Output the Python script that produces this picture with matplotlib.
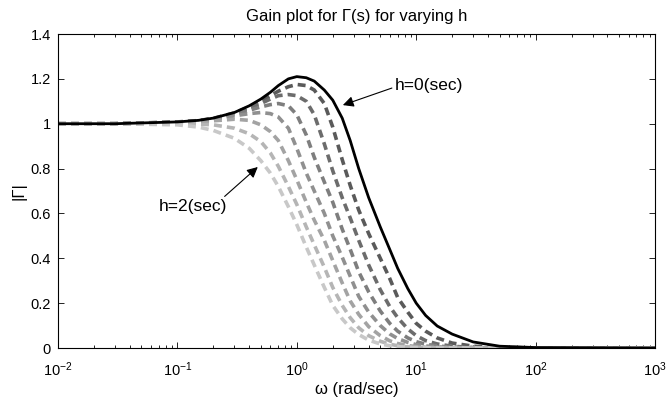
import matplotlib
matplotlib.use("Agg")
import matplotlib.pyplot as plt
from matplotlib.ticker import FixedLocator, LogLocator, NullFormatter

plt.rcParams["font.family"] = ["Liberation Sans", "DejaVu Sans"]
plt.rcParams["mathtext.fontset"] = "custom"
plt.rcParams["mathtext.rm"] = "Liberation Sans"
plt.rcParams["mathtext.it"] = "Liberation Sans:italic"

# frequency grid (rad/sec)
omega = [0.01, 0.03, 0.1, 0.15, 0.2, 0.3, 0.4, 0.5, 0.6, 0.7, 0.85, 1.0,
         1.2, 1.4, 1.7, 2.0, 2.4, 2.8, 3.3, 4.0, 5.0, 6.0, 7.0, 8.5,
         10, 12, 15, 20, 30, 50, 100, 1000]

# h = 0 (solid black)
gain_h0 = [1.000, 1.000, 1.008, 1.015, 1.025, 1.050, 1.080, 1.110, 1.140, 1.170, 1.200, 1.210,
           1.205, 1.190, 1.150, 1.105, 1.025, 0.925, 0.800, 0.670, 0.540, 0.440, 0.355, 0.265,
           0.200, 0.145, 0.098, 0.062, 0.027, 0.008, 0.002, 0.000]

# increasing h (dashed, dark -> light)
gain_d1 = [1.000, 1.000, 1.008, 1.014, 1.024, 1.048, 1.075, 1.100, 1.125, 1.145, 1.165, 1.175,
           1.170, 1.150, 1.090, 0.985, 0.840, 0.725, 0.615, 0.510, 0.400, 0.310, 0.225, 0.160,
           0.110, 0.075, 0.045, 0.022, 0.008, 0.002, 0.0005, 0.000]
gain_d2 = [1.000, 1.000, 1.007, 1.013, 1.022, 1.045, 1.070, 1.090, 1.110, 1.125, 1.130, 1.125,
           1.100, 1.040, 0.910, 0.790, 0.670, 0.580, 0.480, 0.370, 0.260, 0.185, 0.135, 0.085,
           0.055, 0.033, 0.018, 0.008, 0.002, 0.0005, 0.000, 0.000]
gain_d3 = [1.000, 1.000, 1.006, 1.012, 1.020, 1.040, 1.060, 1.075, 1.085, 1.090, 1.080, 1.040,
           0.950, 0.850, 0.740, 0.650, 0.530, 0.440, 0.340, 0.250, 0.165, 0.110, 0.075, 0.045,
           0.028, 0.017, 0.009, 0.004, 0.001, 0.000, 0.000, 0.000]
gain_d4 = [1.000, 1.000, 1.005, 1.010, 1.018, 1.035, 1.045, 1.050, 1.045, 1.030, 0.980, 0.890,
           0.780, 0.700, 0.600, 0.500, 0.405, 0.320, 0.230, 0.160, 0.100, 0.063, 0.042, 0.025,
           0.015, 0.009, 0.005, 0.002, 0.001, 0.000, 0.000, 0.000]
gain_d5 = [1.000, 1.000, 1.003, 1.008, 1.013, 1.020, 1.015, 0.995, 0.965, 0.925, 0.835, 0.750,
           0.650, 0.570, 0.480, 0.390, 0.290, 0.210, 0.150, 0.095, 0.055, 0.032, 0.020, 0.011,
           0.006, 0.003, 0.002, 0.001, 0.000, 0.000, 0.000, 0.000]
gain_d6 = [1.000, 1.000, 1.000, 0.998, 0.995, 0.980, 0.955, 0.920, 0.870, 0.810, 0.720, 0.640,
           0.540, 0.460, 0.360, 0.270, 0.190, 0.135, 0.090, 0.055, 0.030, 0.017, 0.010, 0.005,
           0.003, 0.002, 0.001, 0.000, 0.000, 0.000, 0.000, 0.000]
gain_d7 = [1.000, 1.000, 0.995, 0.985, 0.970, 0.935, 0.890, 0.835, 0.780, 0.720, 0.630, 0.550,
           0.450, 0.370, 0.270, 0.190, 0.130, 0.090, 0.060, 0.035, 0.018, 0.010, 0.006, 0.003,
           0.002, 0.001, 0.000, 0.000, 0.000, 0.000, 0.000, 0.000]

dashed_gains = [gain_d1, gain_d2, gain_d3, gain_d4, gain_d5, gain_d6, gain_d7]
dashed_colors = ["#5a5a5a", "#6c6c6c", "#7e7e7e", "#909090", "#a3a3a3", "#b5b5b5", "#c8c8c8"]

y_ticks = [0, 0.2, 0.4, 0.6, 0.8, 1.0, 1.2, 1.4]
y_labels = ["0", "0.2", "0.4", "0.6", "0.8", "1", "1.2", "1.4"]


def plot_gain() -> None:
    fig = plt.figure(figsize=(6.67, 4.0), dpi=100)
    ax = fig.add_axes([0.087, 0.13, 0.895, 0.785])

    for gain, color in zip(dashed_gains, dashed_colors):
        ax.plot(omega, gain, color=color, lw=2.6, linestyle=(0, (2.2, 1.4)),
                dash_capstyle="butt")
    ax.plot(omega, gain_h0, color="black", lw=2.0, zorder=5)

    ax.set_xscale("log")
    ax.set_xlim(1e-2, 1e3)
    ax.set_ylim(0, 1.4)
    ax.yaxis.set_major_locator(FixedLocator(y_ticks))
    ax.set_yticklabels(y_labels)
    ax.xaxis.set_major_locator(LogLocator(base=10, numticks=10))
    ax.xaxis.set_minor_locator(LogLocator(base=10, subs=range(2, 10), numticks=20))
    ax.xaxis.set_minor_formatter(NullFormatter())

    ax.tick_params(which="both", direction="in", top=True, right=True,
                   labelsize=10.5, width=0.6)
    ax.tick_params(which="major", length=4, pad=5)
    ax.tick_params(which="minor", length=2)
    ax.tick_params(axis="x", which="major", pad=9)
    for sp in ax.spines.values():
        sp.set_linewidth(0.8)

    ax.set_title("Gain plot for \u0393(s) for varying h", fontsize=12, pad=9)
    ax.set_xlabel("\u03c9 (rad/sec)", fontsize=12, labelpad=2)
    ax.set_ylabel("|\u0393|", fontsize=12, labelpad=3)

    arrow = dict(arrowstyle="-|>", color="black", lw=0.8, mutation_scale=16,
                 shrinkA=0, shrinkB=0)
    ax.annotate("h=0(sec)", xy=(2.43, 1.083), xytext=(6.6, 1.17),
                fontsize=12.5, ha="left", va="center",
                arrowprops=dict(arrow, relpos=(0.0, 0.4)))
    ax.annotate("h=2(sec)", xy=(0.471, 0.807), xytext=(0.26, 0.63),
                fontsize=12.5, ha="right", va="center",
                arrowprops=dict(arrow, relpos=(0.92, 1.0)))

    fig.savefig("out.png", dpi=100)


if __name__ == "__main__":
    plot_gain()
